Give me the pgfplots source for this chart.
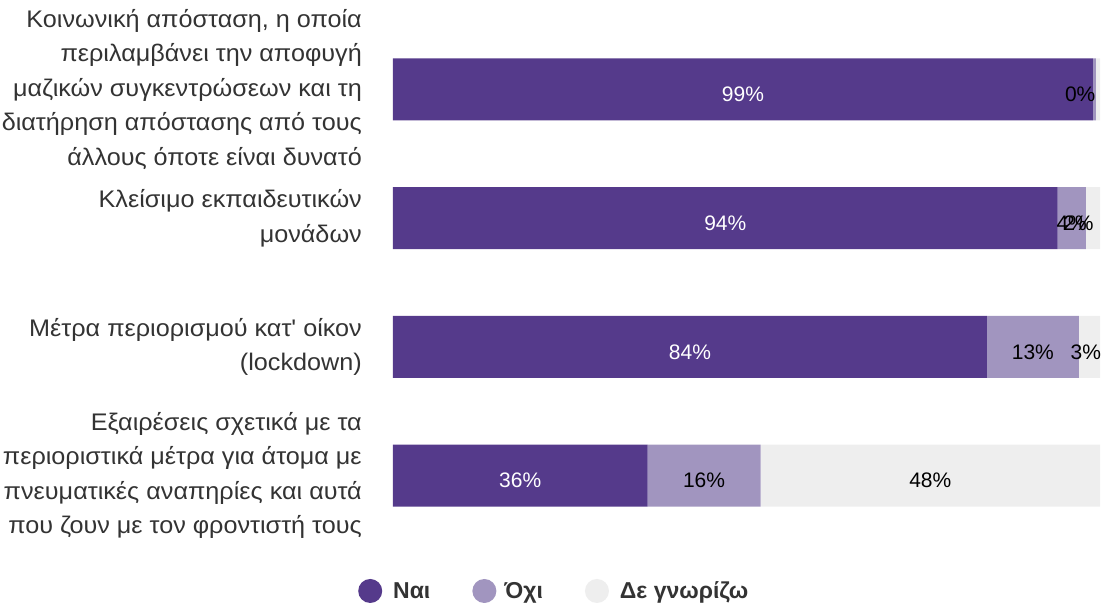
\documentclass[border=0pt]{standalone}
\usepackage{pgfplots}
\pgfplotsset{compat=1.18}
\usepackage{fontspec}
\setmainfont{Liberation Sans}
\newfontfamily\labfont[FakeStretch=1.05]{Liberation Sans}
\definecolor{nai}{RGB}{85,58,139}
\definecolor{oxi}{RGB}{161,149,191}
\definecolor{dk}{RGB}{238,238,238}
\definecolor{txt}{RGB}{51,51,51}
\tikzset{pct/.style={font=\fontsize{21}{23}\selectfont, text=black, yshift=-5pt}}

\begin{document}
\begin{tikzpicture}
\begin{axis}[
    scale only axis,
    width=707pt, height=515pt,
    xbar stacked, bar width=62pt,
    xmin=0, xmax=100,
    ymin=-0.5, ymax=3.5, y dir=reverse,
    axis line style={draw=none},
    major tick length=0pt,
    xtick=\empty,
    ytick={0,1,2,3},
    yticklabels={
      {Κοινωνική απόσταση, η οποία\\περιλαμβάνει την αποφυγή\\μαζικών συγκεντρώσεων και τη\\διατήρηση απόστασης από τους\\άλλους όποτε είναι δυνατό},
      {Κλείσιμο εκπαιδευτικών\\μονάδων},
      {Μέτρα περιορισμού κατ' οίκον\\(lockdown)},
      {Εξαιρέσεις σχετικά με τα\\περιοριστικά μέτρα για άτομα με\\πνευματικές αναπηρίες και αυτά\\που ζουν με τον φροντιστή τους}},
    yticklabel style={align=right, font=\labfont\fontsize{24}{34.5}\selectfont,
      text=txt, inner sep=0pt, xshift=-31pt},
    legend columns=3,
    legend style={draw=none, at={(0.228,-0.099)}, anchor=center,
      font=\fontsize{23}{25}\selectfont\bfseries, text=txt,
      /tikz/every even column/.append style={column sep=40pt}},
    legend image code/.code={\fill[#1] (0pt,0pt) circle (12pt);},
    clip=false,
]
\addplot[fill=nai, draw=none] coordinates {(99,0) (94,1) (84,2) (36,3)};
\addplot[fill=oxi, draw=none] coordinates {(0.4,0) (4,1) (13,2) (16,3)};
\addplot[fill=dk, draw=none] coordinates {(0.6,0) (2,1) (3,2) (48,3)};
\legend{\hspace{9pt}Ναι, \hspace{6pt}Όχι, \hspace{9pt}Δε γνωρίζω}

\coordinate (a1) at (axis cs:49.5,0);
\coordinate (a2) at (axis cs:97.2,0);
\coordinate (b1) at (axis cs:47,1);
\coordinate (b2) at (axis cs:96,1);
\coordinate (b3) at (axis cs:99.6,1);
\coordinate (c1) at (axis cs:42,2);
\coordinate (c2) at (axis cs:90.5,2);
\coordinate (c3) at (axis cs:98,2);
\coordinate (d1) at (axis cs:18,3);
\coordinate (d2) at (axis cs:44,3);
\coordinate (d3) at (axis cs:76,3);
\end{axis}
\node[pct, text=white] at (a1) {99\%};
\node[pct] at (a2) {0\%};
\node[pct, text=white] at (b1) {94\%};
\node[pct] at (b2) {4\%};
\node[pct, anchor=east] at (b3) {2\%};
\node[pct, text=white] at (c1) {84\%};
\node[pct] at (c2) {13\%};
\node[pct] at (c3) {3\%};
\node[pct, text=white] at (d1) {36\%};
\node[pct] at (d2) {16\%};
\node[pct] at (d3) {48\%};
\pgfresetboundingbox
\useasboundingbox ([shift={(-393pt,-64pt)}]current axis.south west) rectangle ([shift={(2pt,25pt)}]current axis.north east);
\end{tikzpicture}
\end{document}
